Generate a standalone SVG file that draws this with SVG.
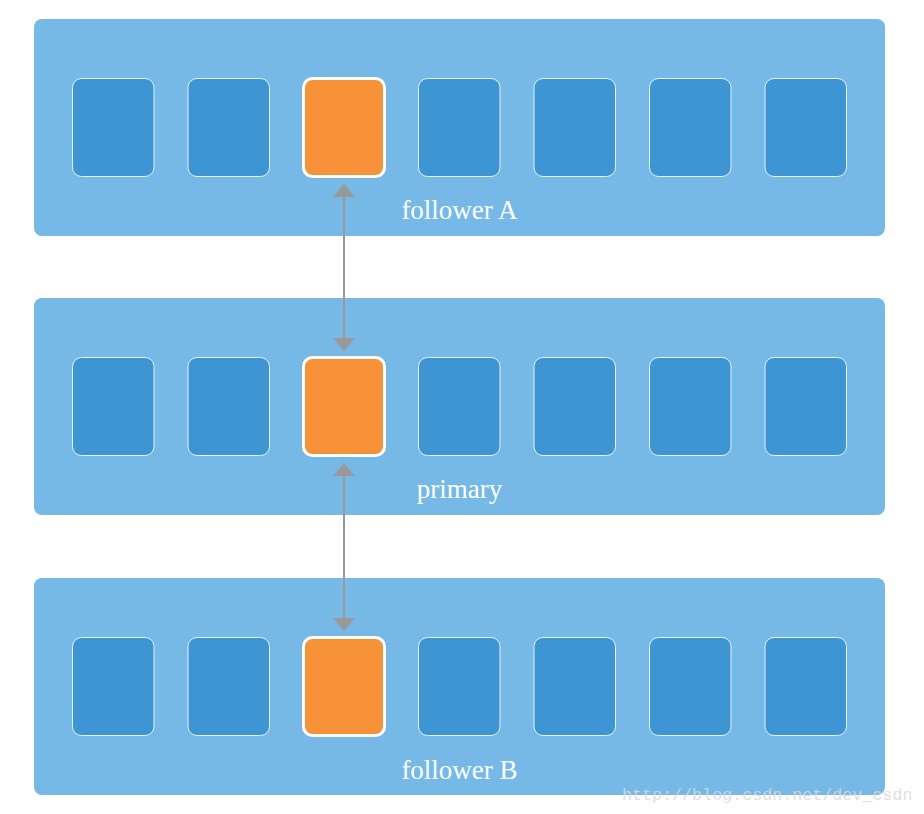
<svg xmlns="http://www.w3.org/2000/svg" width="924" height="814" viewBox="0 0 924 814">
<defs>
<style>
.panel{fill:#76B9E7}
.cell{fill:#3D96D3;stroke:#E6F1FA;stroke-width:1}
.sel{fill:#F79239;stroke:#FFFFFF;stroke-width:3}
.lbl{font-family:"Liberation Serif","Times New Roman",serif;font-size:27px;fill:#FFFFFF;text-anchor:middle}
.conn{stroke:#999999;stroke-width:2;fill:none}
.wm{font-family:"Liberation Mono","Courier New",monospace;font-size:16.7px;fill:#D9D9D9;fill-opacity:0.85}
</style>
<marker id="ah" viewBox="0 0 13 22" refX="13" refY="11" markerWidth="13" markerHeight="22" markerUnits="userSpaceOnUse" orient="auto-start-reverse">
<path d="M0,0 L13,11 L0,22 Z" fill="#999999"/>
</marker>
</defs>
<rect width="924" height="814" fill="#FFFFFF"/>
<g id="followerA">
<rect class="panel" x="34" y="19" width="851" height="217" rx="8"/>
<rect class="cell" x="72.5" y="78.5" width="81.5" height="98" rx="9"/>
<rect class="cell" x="188" y="78.5" width="81.5" height="98" rx="9"/>
<rect class="sel" x="303.5" y="78.5" width="81" height="98" rx="9"/>
<rect class="cell" x="418.5" y="78.5" width="81.5" height="98" rx="9"/>
<rect class="cell" x="534" y="78.5" width="81.5" height="98" rx="9"/>
<rect class="cell" x="649.5" y="78.5" width="81.5" height="98" rx="9"/>
<rect class="cell" x="765" y="78.5" width="81.5" height="98" rx="9"/>
<text class="lbl" x="459.5" y="219">follower A</text>
</g>
<g id="primary">
<rect class="panel" x="34" y="298" width="851" height="217" rx="8"/>
<rect class="cell" x="72.5" y="357.5" width="81.5" height="98" rx="9"/>
<rect class="cell" x="188" y="357.5" width="81.5" height="98" rx="9"/>
<rect class="sel" x="303.5" y="357.5" width="81" height="98" rx="9"/>
<rect class="cell" x="418.5" y="357.5" width="81.5" height="98" rx="9"/>
<rect class="cell" x="534" y="357.5" width="81.5" height="98" rx="9"/>
<rect class="cell" x="649.5" y="357.5" width="81.5" height="98" rx="9"/>
<rect class="cell" x="765" y="357.5" width="81.5" height="98" rx="9"/>
<text class="lbl" x="459.5" y="498">primary</text>
</g>
<g id="followerB">
<rect class="panel" x="34" y="578" width="851" height="217" rx="8"/>
<rect class="cell" x="72.5" y="637.5" width="81.5" height="98" rx="9"/>
<rect class="cell" x="188" y="637.5" width="81.5" height="98" rx="9"/>
<rect class="sel" x="303.5" y="637.5" width="81" height="98" rx="9"/>
<rect class="cell" x="418.5" y="637.5" width="81.5" height="98" rx="9"/>
<rect class="cell" x="534" y="637.5" width="81.5" height="98" rx="9"/>
<rect class="cell" x="649.5" y="637.5" width="81.5" height="98" rx="9"/>
<rect class="cell" x="765" y="637.5" width="81.5" height="98" rx="9"/>
<text class="lbl" x="459.5" y="779">follower B</text>
</g>
<g id="connectors">
<line class="conn" x1="344" y1="184" x2="344" y2="351" marker-start="url(#ah)" marker-end="url(#ah)"/>
<line class="conn" x1="344" y1="463" x2="344" y2="631" marker-start="url(#ah)" marker-end="url(#ah)"/>
</g>
<text class="wm" x="622" y="800">http://blog.csdn.net/dev_csdn</text>
</svg>
